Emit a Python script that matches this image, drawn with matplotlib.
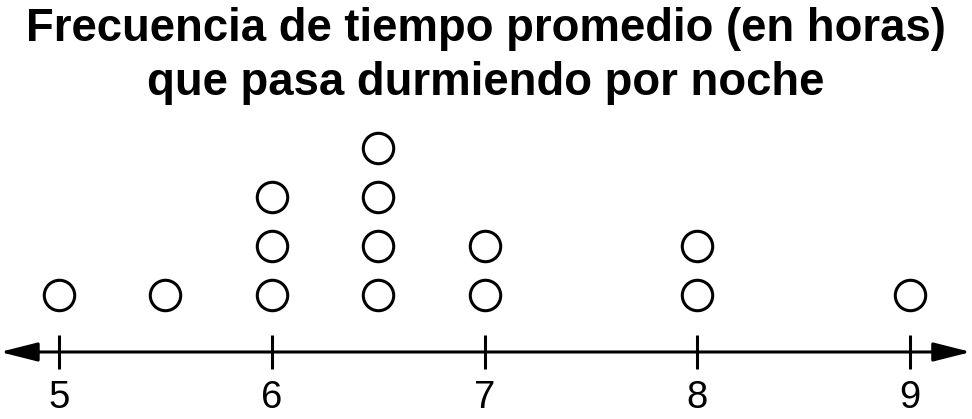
import matplotlib
matplotlib.use("Agg")
import matplotlib.pyplot as plt
from matplotlib.patches import FancyArrowPatch

plt.rcParams["font.family"] = ["Liberation Sans", "DejaVu Sans"]

# Hours of sleep per night and how many people reported each value
hours = [5, 5.5, 6, 6.5, 7, 8, 9]
counts = [1, 1, 3, 4, 2, 2, 1]
tick_values = [5, 6, 7, 8, 9]
title = "Frecuencia de tiempo promedio (en horas)\nque pasa durmiendo por noche"

DPI = 100
fig = plt.figure(figsize=(9.72, 4.19), dpi=DPI)
ax = fig.add_axes([0, 0, 1, 1])

# one x unit = 212.75 px, one stack level = 49 px
ax.set_xlim(4.7227, 9.2914)
ax.set_ylim(-1.5306, 7.0204)
axis_y = -0.163

xs, ys = [], []
for h, c in zip(hours, counts):
    for k in range(1, c + 1):
        xs.append(h)
        ys.append(k)
ax.scatter(xs, ys, s=480, facecolors="white", edgecolors="black",
           linewidths=2.2, zorder=3)

# number line with arrowheads at both ends
x0, x1 = ax.get_xlim()
line = FancyArrowPatch((x0 + 0.0, axis_y), (x1 - 0.005, axis_y),
                       arrowstyle="<|-|>,head_length=23,head_width=5.8",
                       mutation_scale=1, linewidth=2.2, color="black",
                       shrinkA=0, shrinkB=0, zorder=2)
ax.add_patch(line)

for side in ["top", "left", "right"]:
    ax.spines[side].set_visible(False)
ax.spines["bottom"].set_position(("data", axis_y))
ax.spines["bottom"].set_color("none")
ax.set_yticks([])
ax.set_xticks(tick_values)
ax.set_xticklabels([str(t) for t in tick_values])
ax.tick_params(axis="x", direction="inout", length=24.5, width=2.2,
               labelsize=27.5, pad=8, color="black")

fig.text(0.5, 1 - 7 / 419, title, ha="center", va="top",
         fontsize=32.8, fontweight="bold", linespacing=1.3)

fig.savefig("out.png", dpi=DPI)
